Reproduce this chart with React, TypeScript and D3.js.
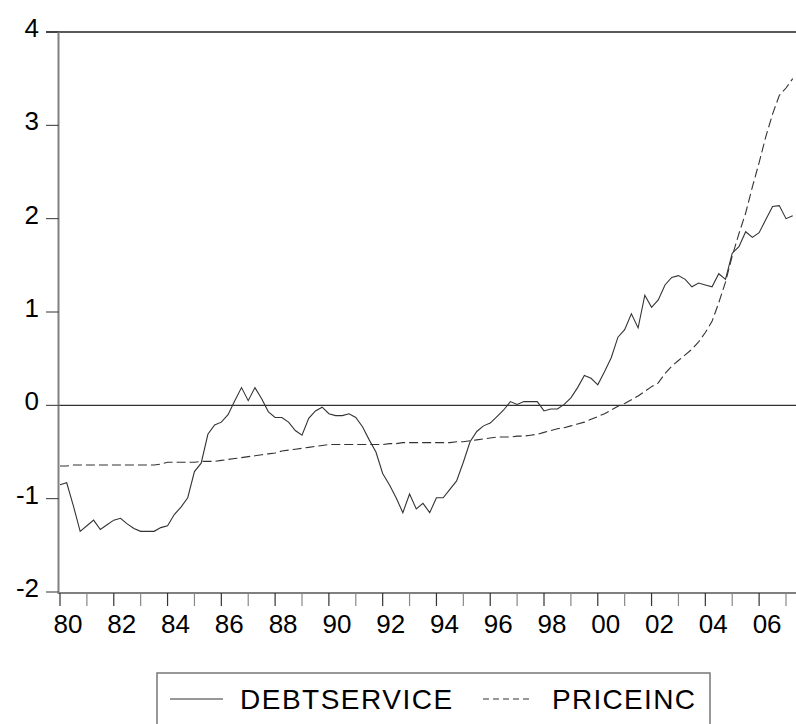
import React, { useRef, useEffect } from 'react';
import * as d3 from 'd3';

// Quarterly, 1980Q1 .. 2007Q2
const startYear = 1980;

const debtService = [
  -0.85, -0.83, -1.08, -1.35, -1.29, -1.23, -1.33, -1.28, -1.23, -1.21,
  -1.27, -1.32, -1.35, -1.35, -1.35, -1.31, -1.29, -1.17, -1.09, -0.99,
  -0.71, -0.62, -0.31, -0.21, -0.18, -0.10, 0.05, 0.19, 0.05, 0.19,
  0.07, -0.07, -0.13, -0.13, -0.18, -0.27, -0.32, -0.14, -0.06, -0.02,
  -0.09, -0.11, -0.11, -0.09, -0.13, -0.23, -0.37, -0.50, -0.73, -0.85,
  -0.99, -1.15, -0.95, -1.11, -1.05, -1.15, -0.99, -0.99, -0.90, -0.81,
  -0.61, -0.39, -0.28, -0.22, -0.19, -0.12, -0.05, 0.04, 0.01, 0.04,
  0.04, 0.04, -0.06, -0.04, -0.04, 0.01, 0.08, 0.19, 0.32, 0.29,
  0.22, 0.36, 0.51, 0.73, 0.81, 0.98, 0.83, 1.18, 1.05, 1.13,
  1.29, 1.37, 1.39, 1.35, 1.27, 1.31, 1.29, 1.27, 1.41, 1.35,
  1.63, 1.70, 1.86, 1.80, 1.85, 1.99, 2.13, 2.14, 2.00, 2.03,
];

const priceInc = [
  -0.65, -0.65, -0.64, -0.64, -0.64, -0.64, -0.64, -0.64, -0.64, -0.64,
  -0.64, -0.64, -0.64, -0.64, -0.64, -0.63, -0.61, -0.61, -0.61, -0.61,
  -0.61, -0.60, -0.60, -0.60, -0.59, -0.58, -0.57, -0.56, -0.55, -0.54,
  -0.53, -0.52, -0.51, -0.49, -0.48, -0.47, -0.46, -0.45, -0.44, -0.43,
  -0.42, -0.42, -0.42, -0.42, -0.42, -0.42, -0.42, -0.42, -0.42, -0.41,
  -0.41, -0.40, -0.40, -0.40, -0.40, -0.40, -0.40, -0.40, -0.40, -0.39,
  -0.39, -0.38, -0.37, -0.36, -0.35, -0.34, -0.34, -0.34, -0.33, -0.33,
  -0.32, -0.31, -0.29, -0.27, -0.25, -0.24, -0.22, -0.20, -0.18, -0.15,
  -0.12, -0.09, -0.05, -0.01, 0.02, 0.06, 0.10, 0.15, 0.20, 0.24,
  0.34, 0.42, 0.48, 0.54, 0.60, 0.68, 0.78, 0.90, 1.10, 1.32,
  1.60, 1.84, 2.06, 2.34, 2.60, 2.88, 3.12, 3.32, 3.40, 3.50,
];

const yTicks = [-2, -1, 0, 1, 2, 3, 4];
const yearTicks = d3.range(1980, 2008);
const yearLabels = ['80', '82', '84', '86', '88', '90', '92', '94', '96', '98', '00', '02', '04', '06'];

const seriesNames = ['DEBTSERVICE', 'PRICEINC'];

const FONT = '"Liberation Sans", Arial, Helvetica, sans-serif';

export default function App() {
  const svgRef = useRef<SVGSVGElement>(null);

  useEffect(() => {
    const svg = d3.select(svgRef.current);
    svg.selectAll('*').remove();
    if (!svgRef.current) return;

    const width = 796;
    const left = 58.5;
    const top = 32;
    const bottom = 592;

    const x = d3.scaleLinear().domain([1980, 2007]).range([60, 786]);
    const y = d3.scaleLinear().domain([-2, 4]).range([bottom, top]);
    const t = (i: number) => startYear + i / 4;

    // frame: top border and zero line
    svg.append('line').attr('x1', 46).attr('x2', width).attr('y1', y(4)).attr('y2', y(4))
      .attr('stroke', '#222').attr('stroke-width', 1.3);
    svg.append('line').attr('x1', left).attr('x2', width).attr('y1', y(0)).attr('y2', y(0))
      .attr('stroke', '#333').attr('stroke-width', 1.2);

    // Y axis
    svg.append('line').attr('x1', left).attr('x2', left).attr('y1', top).attr('y2', bottom + 1.5)
      .attr('stroke', '#808080').attr('stroke-width', 2);
    yTicks.forEach((v) => {
      svg.append('line').attr('x1', 46).attr('x2', left).attr('y1', y(v)).attr('y2', y(v))
        .attr('stroke', '#333').attr('stroke-width', 1);
      svg.append('text').attr('x', 39).attr('y', y(v) + 5)
        .attr('text-anchor', 'end').attr('font-family', FONT).attr('font-size', 26)
        .attr('fill', '#000').text(String(v));
    });

    // X axis
    svg.append('line').attr('x1', left - 1).attr('x2', width).attr('y1', bottom + 1).attr('y2', bottom + 1)
      .attr('stroke', '#808080').attr('stroke-width', 2);
    yearTicks.forEach((yr) => {
      const even = yr % 2 === 0;
      svg.append('line').attr('x1', x(yr)).attr('x2', x(yr)).attr('y1', bottom + 1).attr('y2', bottom + 14)
        .attr('stroke', even ? '#333' : '#888').attr('stroke-width', 1.2);
    });
    yearLabels.forEach((lab, k) => {
      const yr = 1980 + k * 2;
      svg.append('text').attr('x', x(yr) + 8).attr('y', 633)
        .attr('text-anchor', 'middle').attr('font-family', FONT).attr('font-size', 26)
        .attr('fill', '#000').text(lab);
    });

    // series
    const line = d3.line<number>().x((_, i) => x(t(i))).y((d) => y(d));
    svg.append('path').datum(priceInc).attr('d', line)
      .attr('fill', 'none').attr('stroke', '#333').attr('stroke-width', 1.1)
      .attr('stroke-dasharray', '9,4');
    svg.append('path').datum(debtService).attr('d', line)
      .attr('fill', 'none').attr('stroke', '#333').attr('stroke-width', 1.1);

    // legend
    svg.append('rect').attr('x', 157).attr('y', 673).attr('width', 553).attr('height', 80)
      .attr('fill', 'white').attr('stroke', '#777').attr('stroke-width', 1.5);
    const ly = 699;
    svg.append('line').attr('x1', 170).attr('x2', 223).attr('y1', ly).attr('y2', ly)
      .attr('stroke', '#333').attr('stroke-width', 1.1);
    svg.append('text').attr('x', 240).attr('y', 709).attr('font-family', FONT).attr('font-size', 28)
      .attr('letter-spacing', 1.5).attr('fill', '#000').text(seriesNames[0]);
    svg.append('line').attr('x1', 483).attr('x2', 533).attr('y1', ly).attr('y2', ly)
      .attr('stroke', '#333').attr('stroke-width', 1.1).attr('stroke-dasharray', '6,4');
    svg.append('text').attr('x', 552).attr('y', 709).attr('font-family', FONT).attr('font-size', 28)
      .attr('letter-spacing', 1.3).attr('fill', '#000').text(seriesNames[1]);
  }, []);

  return (
    <div>
      <style>{`body{margin:0;background:#fff}`}</style>
      <svg ref={svgRef} width={796} height={724} style={{ display: 'block' }} />
    </div>
  );
}
